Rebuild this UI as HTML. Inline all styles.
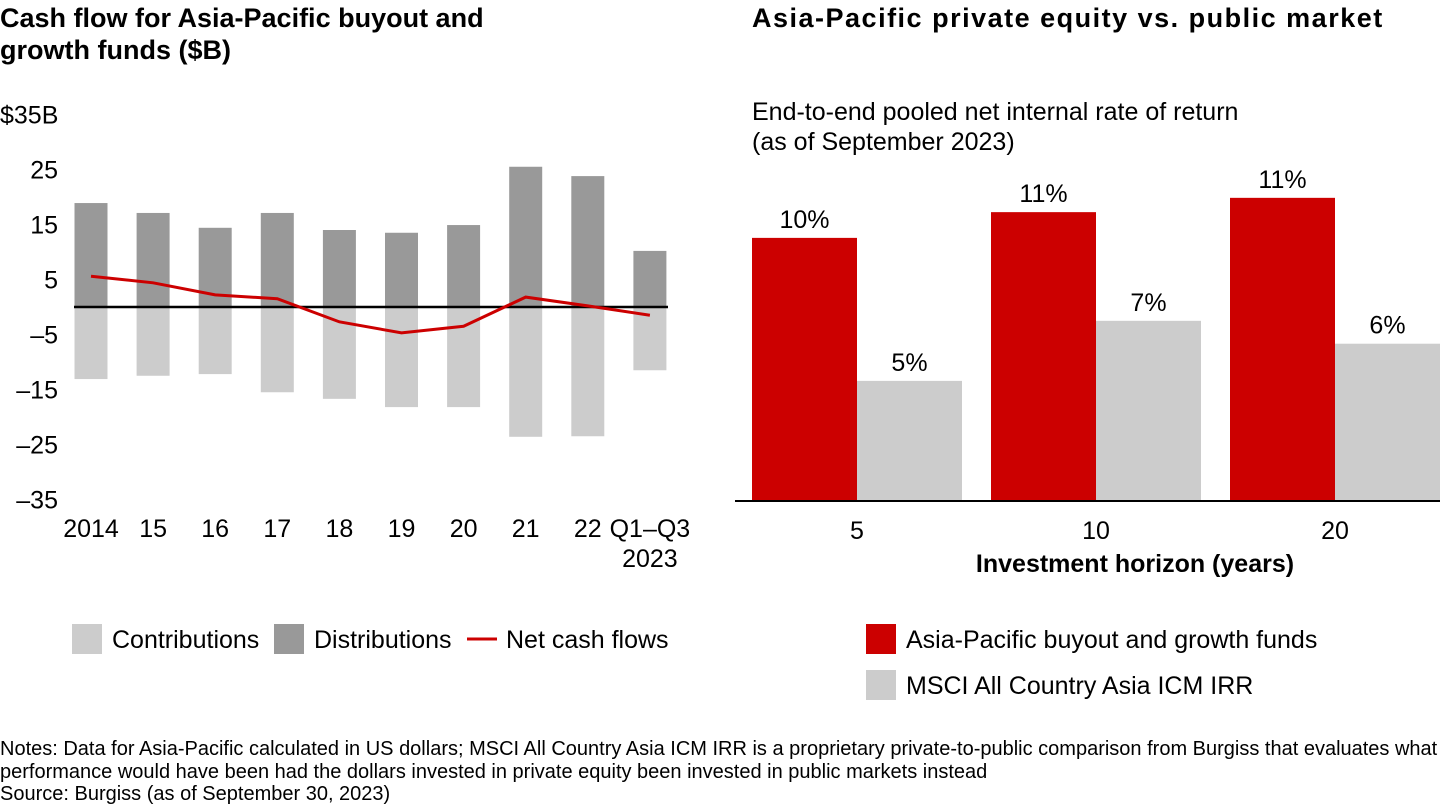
<!DOCTYPE html>
<html><head><meta charset="utf-8"><style>
body{margin:0;width:1440px;height:810px;background:#fff;font-family:"Liberation Sans",Arial,sans-serif;color:#000;overflow:hidden;position:relative}
.t{position:absolute;white-space:nowrap}
</style></head><body>
<div class="t" style="left:0;top:2px;font-size:27px;font-weight:bold;line-height:32px">Cash flow for Asia-Pacific buyout and<br>growth funds ($B)</div>
<div class="t" style="left:752px;top:2px;font-size:27px;font-weight:bold;line-height:32px;letter-spacing:1.5px">Asia-Pacific private equity vs. public market</div>
<div class="t" style="left:752px;top:97px;font-size:25px;line-height:30px">End-to-end pooled net internal rate of return<br>(as of September 2023)</div>
<svg id="c" width="1440" height="810" style="position:absolute;left:0;top:0"></svg>
<div class="t" style="left:0;top:738px;font-size:20px;line-height:22.5px">Notes: Data for Asia-Pacific calculated in US dollars; MSCI All Country Asia ICM IRR is a proprietary private-to-public comparison from Burgiss that evaluates what<br>performance would have been had the dollars invested in private equity been invested in public markets instead<br>Source: Burgiss (as of September 30, 2023)</div>
<script>
const years=["2014","15","16","17","18","19","20","21","22","Q1–Q3"];
const distributions=[18.9,17.1,14.4,17.1,14.0,13.5,14.9,25.5,23.8,10.2];
const contributions=[-13.1,-12.5,-12.2,-15.5,-16.7,-18.2,-18.2,-23.6,-23.5,-11.5];
const netFlows=[5.6,4.4,2.2,1.5,-2.7,-4.7,-3.5,1.8,0.2,-1.5];
const yTicks=[35,25,15,5,-5,-15,-25,-35];
const yTickLabels=["$35B","25","15","5","–5","–15","–25","–35"];
const horizons=["5","10","20"];
const apFunds=[10.0,10.9,11.4];
const msci=[5.0,7.1,6.3];
const apLabels=["10%","11%","11%"];
const msciLabels=["5%","7%","6%"];
const NS="http://www.w3.org/2000/svg";
const svg=document.getElementById('c');
const FS=25;
function mk(tag,attrs,text){const e=document.createElementNS(NS,tag);for(const k in attrs)e.setAttribute(k,attrs[k]);if(text!==undefined)e.textContent=text;svg.appendChild(e);return e;}
const y=v=>307-v*5.5;
const x=i=>91+i*62.1;
yTicks.forEach((v,i)=>{const e=mk('text',{x:i==0?0:58,y:y(v)+9,'font-size':FS,'text-anchor':i==0?'start':'end','font-family':'Liberation Sans'},yTickLabels[i]);

});
years.forEach((lab,i)=>{
 const d=mk('rect',{x:x(i)-16.5,y:y(distributions[i]),width:33,height:y(0)-y(distributions[i]),fill:'#999999'});
 
 
 const c=mk('rect',{x:x(i)-16.5,y:y(0),width:33,height:y(contributions[i])-y(0),fill:'#cccccc'});
 
 
 const t=mk('text',{x:x(i),y:537,'font-size':FS,'text-anchor':'middle','font-family':'Liberation Sans'},lab);
 
 
});
const t2=mk('text',{x:x(9),y:567,'font-size':FS,'text-anchor':'middle','font-family':'Liberation Sans'},'2023');


const zl=mk('line',{x1:74,x2:668,y1:y(0),y2:y(0),stroke:'#000','stroke-width':2.5});


const nl=mk('polyline',{points:netFlows.map((v,i)=>x(i)+','+y(v)).join(' '),fill:'none',stroke:'#cc0000','stroke-width':3});


[[72,'#cccccc','Contributions'],[274,'#999999','Distributions']].forEach(([lx,col,lab])=>{
 const r=mk('rect',{x:lx,y:624,width:30,height:30,fill:col});
 
 
 const t=mk('text',{x:lx+40,y:648,'font-size':FS,'font-family':'Liberation Sans'},lab);
 
 
});
const ll=mk('line',{x1:467,x2:497,y1:639,y2:639,stroke:'#cc0000','stroke-width':3});


const llt=mk('text',{x:506,y:648,'font-size':FS,'font-family':'Liberation Sans'},'Net cash flows');


const ry=v=>501-(v-0.8)*28.6;
const gx=i=>857+i*239;
horizons.forEach((h,i)=>{
 const r=mk('rect',{x:gx(i)-105,y:ry(apFunds[i]),width:105,height:501-ry(apFunds[i]),fill:'#cc0000'});
 
 
 const g=mk('rect',{x:gx(i),y:ry(msci[i]),width:105,height:501-ry(msci[i]),fill:'#cccccc'});
 
 
 const a=mk('text',{x:gx(i)-52.5,y:ry(apFunds[i])-10,'font-size':FS,'text-anchor':'middle','font-family':'Liberation Sans'},apLabels[i]);
 
 
 const b=mk('text',{x:gx(i)+52.5,y:ry(msci[i])-10,'font-size':FS,'text-anchor':'middle','font-family':'Liberation Sans'},msciLabels[i]);
 
 
 const t=mk('text',{x:gx(i),y:539,'font-size':FS,'text-anchor':'middle','font-family':'Liberation Sans'},h);
 
 
});
const bl=mk('line',{x1:735,x2:1440,y1:501,y2:501,stroke:'#000','stroke-width':2});


const xt=mk('text',{x:1135,y:572,'font-size':FS,'font-weight':'bold','text-anchor':'middle','font-family':'Liberation Sans'},'Investment horizon (years)');


[[624,'#cc0000','Asia-Pacific buyout and growth funds'],[670,'#cccccc','MSCI All Country Asia ICM IRR']].forEach(([ly,col,lab])=>{
 const r=mk('rect',{x:866,y:ly,width:30,height:30,fill:col});
 
 
 const t=mk('text',{x:906,y:ly+24,'font-size':FS,'font-family':'Liberation Sans'},lab);
 
 
});
</script>
</body></html>
